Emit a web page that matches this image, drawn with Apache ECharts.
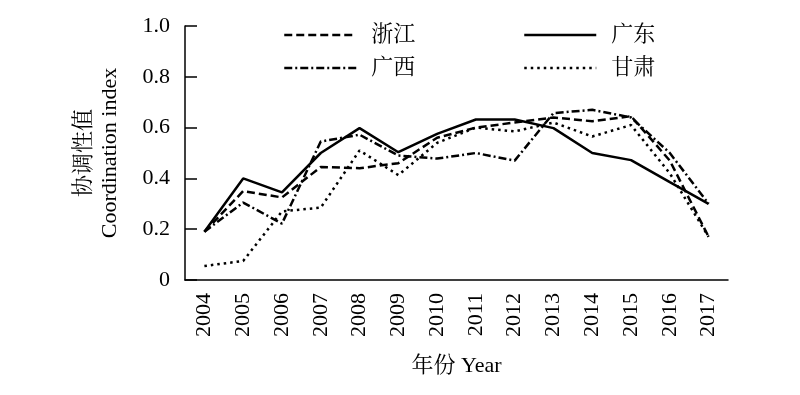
<!DOCTYPE html>
<html>
<head>
<meta charset="utf-8">
<script src="https://cdn.jsdelivr.net/npm/echarts@6/dist/echarts.min.js"></script>
<style>html,body{margin:0;padding:0;background:#fff;}#c{width:800px;height:395px;}</style>
</head>
<body>
<div id="c"></div>
<script>
var years = ['2004','2005','2006','2007','2008','2009','2010','2011','2012','2013','2014','2015','2016','2017'];
var zhejiang = [0.19,0.35,0.325,0.445,0.44,0.46,0.56,0.60,0.62,0.64,0.625,0.645,0.47,0.17];
var guangdong = [0.19,0.40,0.345,0.50,0.598,0.503,0.575,0.632,0.632,0.598,0.50,0.472,0.385,0.30];
var guangxi = [0.19,0.305,0.222,0.545,0.572,0.49,0.478,0.50,0.47,0.657,0.67,0.64,0.50,0.30];
var gansu = [0.055,0.075,0.27,0.285,0.51,0.413,0.54,0.60,0.585,0.62,0.565,0.61,0.42,0.17];
var yTicks = [0, 0.2, 0.4, 0.6, 0.8, 1.0];

var FONT = '"Liberation Serif","Times New Roman","Noto Serif CJK SC","Noto Sans CJK SC",serif';
var chart = echarts.init(document.getElementById('c'));
function mkSeries(name, data, type) {
  return {
    name: name, type: 'line', data: data, symbol: 'none',
    lineStyle: {color: '#000', width: 2.5, type: type, cap: 'butt'},
    itemStyle: {color: '#000'}
  };
}
function mkLegend(name, left, top) {
  return {
    data: [name], left: left, top: top, itemWidth: 72, itemHeight: 14,
    itemStyle: {opacity: 0},
    lineStyle: {width: 2.5},
    textStyle: {fontFamily: FONT, fontSize: 22, color: '#000', padding: [0,0,0,10]}
  };
}
chart.setOption({
  animation: false,
  backgroundColor: '#fff',
  legend: [
    mkLegend('浙江', 278, 19),
    mkLegend('广东', 518, 19),
    mkLegend('广西', 278, 52),
    mkLegend('甘肃', 518, 52)
  ],
  grid: {left: 185, right: 72, top: 26, bottom: 115},
  xAxis: {
    type: 'category', data: years, boundaryGap: true,
    name: '年份 Year', nameLocation: 'middle', nameGap: 75,
    nameTextStyle: {fontFamily: FONT, fontSize: 22, color: '#000'},
    axisLine: {lineStyle: {color: '#000', width: 1.5}},
    axisTick: {inside: true, length: 10, alignWithLabel: true, lineStyle: {color: '#000', width: 1.5}},
    axisLabel: {rotate: 90, margin: 13, fontFamily: FONT, fontSize: 22, color: '#000'},
    splitLine: {show: false}
  },
  yAxis: {
    type: 'value', min: 0, max: 1, interval: 0.2,
    name: '协调性值\nCoordination index', nameLocation: 'middle', nameRotate: 90, nameGap: 62,
    nameTextStyle: {fontFamily: FONT, fontSize: 22, color: '#000', lineHeight: 26},
    axisLine: {show: true, lineStyle: {color: '#000', width: 1.5}},
    axisTick: {show: true, inside: true, length: 12, lineStyle: {color: '#000', width: 1.5}},
    axisLabel: {margin: 15, fontFamily: FONT, fontSize: 22, color: '#000',
      formatter: function (v) { return v === 0 ? '0' : v.toFixed(1); }},
    splitLine: {show: false}
  },
  series: [
    mkSeries('浙江', zhejiang, [8, 4]),
    mkSeries('广东', guangdong, 'solid'),
    mkSeries('广西', guangxi, [8, 3, 2, 3]),
    mkSeries('甘肃', gansu, [2.5, 4])
  ]
});
</script>
</body>
</html>
